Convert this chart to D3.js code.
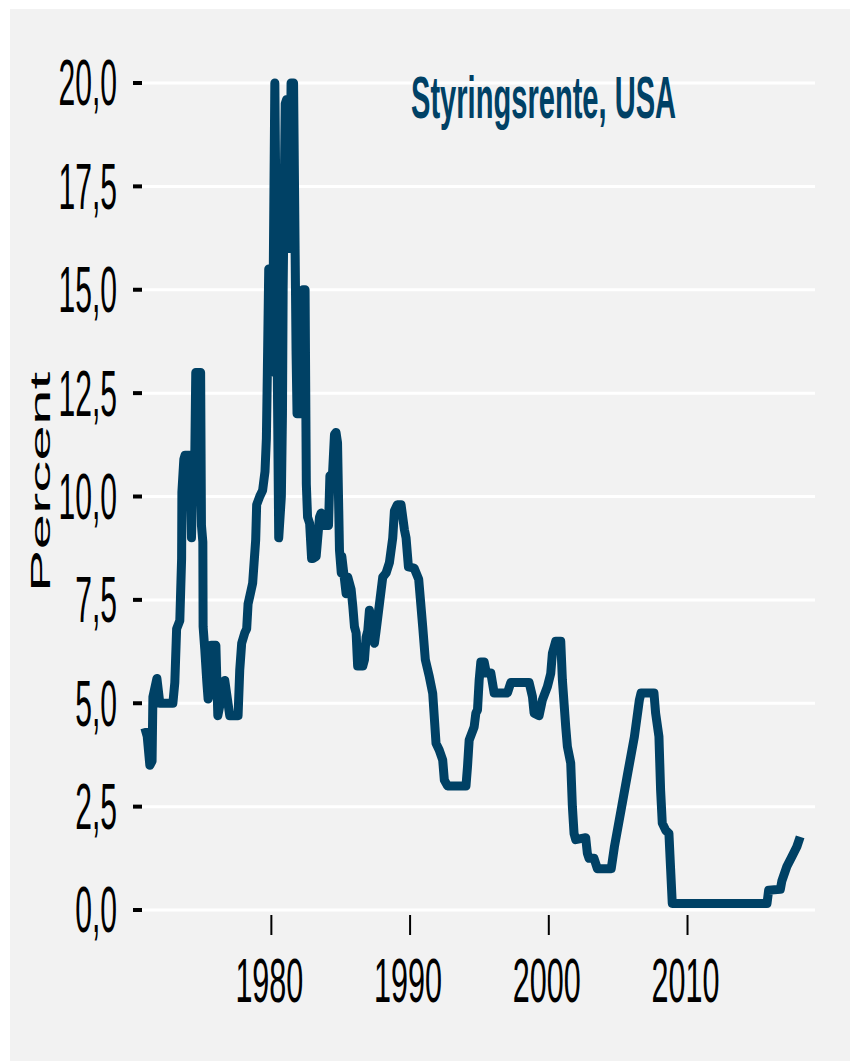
<!DOCTYPE html>
<html>
<head>
<meta charset="utf-8">
<script src="https://cdn.jsdelivr.net/npm/d3@7"></script>
<style>
  body { margin: 0; background: #fff; }
  text { font-family: "Liberation Sans", Arial, sans-serif; }
</style>
</head>
<body>
<script>
const width = 850;
const height = 1061;

// decimal years and policy rate (percent)
const years = [
  1970.88, 1971.05, 1971.24, 1971.40, 1971.46, 1971.75, 1971.96, 1972.90,
  1973.04, 1973.17, 1973.40, 1973.53, 1973.55, 1973.69, 1973.78, 1974.10,
  1974.24, 1974.40, 1974.48, 1974.55, 1974.90, 1974.96, 1975.06, 1975.08,
  1975.20, 1975.35, 1975.44, 1975.56, 1975.68, 1976.00, 1976.14, 1976.64,
  1977.00, 1977.60, 1977.72, 1977.86, 1978.08, 1978.22, 1978.32, 1978.65,
  1978.87, 1978.94, 1979.16, 1979.37, 1979.54, 1979.64, 1979.71, 1979.81,
  1979.91, 1980.09, 1980.25, 1980.53, 1980.72, 1980.80, 1980.85, 1981.00,
  1981.10, 1981.24, 1981.32, 1981.42, 1981.60, 1981.78, 1981.85, 1982.16,
  1982.28, 1982.43, 1982.52, 1982.61, 1982.76, 1982.90, 1983.00, 1983.23,
  1983.47, 1983.59, 1983.69, 1984.12, 1984.22, 1984.41, 1984.55, 1984.66,
  1984.77, 1984.91, 1985.04, 1985.08, 1985.27, 1985.39, 1985.51, 1985.75,
  1985.87, 1985.99, 1986.11, 1986.22, 1986.59, 1986.71, 1986.83, 1986.95,
  1987.07, 1987.21, 1987.31, 1987.43, 1987.55, 1987.79, 1988.03, 1988.27,
  1988.51, 1988.75, 1988.87, 1989.08, 1989.35, 1989.59, 1989.71, 1989.88,
  1990.29, 1990.62, 1990.91, 1991.10, 1991.39, 1991.63, 1991.87, 1992.10,
  1992.35, 1992.47, 1992.70, 1994.03, 1994.14, 1994.26, 1994.62, 1994.74,
  1994.86, 1994.98, 1995.10, 1995.34, 1995.50, 1995.82, 1996.06, 1997.02,
  1997.26, 1998.58, 1998.82, 1998.94, 1999.30, 1999.54, 1999.90, 2000.14,
  2000.26, 2000.50, 2000.86, 2000.98, 2001.22, 2001.34, 2001.58, 2001.70,
  2001.82, 2001.94, 2002.66, 2002.78, 2002.90, 2003.26, 2003.50, 2004.50,
  2004.73, 2005.21, 2005.69, 2006.17, 2006.53, 2006.65, 2007.58, 2007.70,
  2007.94, 2008.06, 2008.18, 2008.42, 2008.66, 2008.78, 2008.90, 2015.73,
  2015.85, 2016.69, 2016.80, 2017.16, 2017.52, 2017.88, 2018.12
];
const rates = [
  4.4, 4.2, 3.5, 3.6, 5.15, 5.6, 5.0, 5.0,
  5.5, 6.8, 7.0, 8.5, 10.1, 10.9, 11.0, 11.0,
  9.0, 11.0, 11.0, 13.0, 13.0, 9.3, 8.9, 6.85,
  6.3, 5.5, 5.1, 5.25, 6.4, 6.4, 4.7, 5.55,
  4.7, 4.7, 5.8, 6.45, 6.7, 6.8, 7.4, 7.9,
  8.95, 9.8, 10.0, 10.15, 10.6, 11.4, 13.0, 15.5,
  13.0, 13.5, 20.0, 9.0, 10.0, 12.0, 15.1, 19.5,
  19.6, 16.0, 16.0, 20.0, 20.0, 13.5, 12.0, 12.0,
  15.0, 15.0, 10.3, 9.5, 9.35, 8.5, 8.5, 8.55,
  9.5, 9.6, 9.3, 9.3, 10.5, 10.55, 11.5, 11.55,
  11.3, 8.7, 8.15, 8.55, 8.0, 7.65, 8.05, 7.75,
  7.35, 6.85, 6.7, 5.9, 5.9, 6.05, 6.6, 6.75,
  7.25, 7.0, 6.6, 6.45, 6.75, 7.4, 8.05, 8.15,
  8.4, 9.0, 9.65, 9.8, 9.8, 9.2, 9.0, 8.3,
  8.27, 8.0, 6.85, 6.05, 5.64, 5.24, 4.03, 3.87,
  3.63, 3.14, 3.0, 3.0, 3.47, 4.11, 4.43, 4.76,
  4.84, 5.56, 6.0, 6.0, 5.73, 5.73, 5.25, 5.25,
  5.5, 5.5, 5.16, 4.76, 4.7, 5.08, 5.4, 5.72,
  6.21, 6.5, 6.5, 5.56, 4.43, 3.95, 3.55, 2.5,
  1.85, 1.7, 1.75, 1.37, 1.25, 1.25, 1.0, 1.0,
  1.53, 2.42, 3.31, 4.19, 5.08, 5.25, 5.25, 4.76,
  4.19, 2.9, 2.1, 1.93, 1.85, 1.0, 0.16, 0.16,
  0.48, 0.5, 0.7, 1.05, 1.29, 1.53, 1.77
];

const yTicks = [0, 2.5, 5, 7.5, 10, 12.5, 15, 17.5, 20];
const xTicks = [1980, 1990, 2000, 2010];
const title = "Styringsrente, USA";
const yLabel = "Percent";

const data = years.map((y, i) => ({ year: y, rate: rates[i] }));

let svg = d3
  .select("body")
  .append("svg")
  .attr("width", width)
  .attr("height", height);

// grey panel
svg.append("rect")
  .attr("x", 10).attr("y", 9)
  .attr("width", width - 10).attr("height", height - 9)
  .attr("fill", "#f2f2f2");

let plot = { left: 140, right: 815 };

let x = d3.scaleLinear().domain([1970.53, 2019.19]).range([plot.left, plot.right]);
let y = d3.scaleLinear().domain([0, 20]).range([910, 83]);

// text is squashed horizontally in the original
const sx = 0.47;
const fmt = (d) => d3.format(".1f")(d).replace(".", ",");

// gridlines
svg.append("g")
  .selectAll("line")
  .data(yTicks)
  .join("line")
  .attr("x1", plot.left).attr("x2", plot.right)
  .attr("y1", (d) => y(d)).attr("y2", (d) => y(d))
  .attr("stroke", "#fff")
  .attr("stroke-width", 3);

// y ticks + labels
let yAxis = svg.append("g");
yAxis.selectAll("line")
  .data(yTicks)
  .join("line")
  .attr("x1", 133).attr("x2", 142)
  .attr("y1", (d) => y(d)).attr("y2", (d) => y(d))
  .attr("stroke", "#000")
  .attr("stroke-width", 4);
yAxis.selectAll("text")
  .data(yTicks)
  .join("text")
  .attr("transform", (d) => `translate(117, ${y(d)}) scale(${sx}, 1)`)
  .attr("dy", "0.35em")
  .attr("text-anchor", "end")
  .attr("font-size", 64)
  .attr("fill", "#000")
  .text(fmt);

// x ticks + labels
let xAxis = svg.append("g");
xAxis.selectAll("line")
  .data(xTicks)
  .join("line")
  .attr("x1", (d) => x(d)).attr("x2", (d) => x(d))
  .attr("y1", 915).attr("y2", 935)
  .attr("stroke", "#000")
  .attr("stroke-width", 2);
xAxis.selectAll("text")
  .data(xTicks)
  .join("text")
  .attr("transform", (d) => `translate(${x(d) - 2}, 1002) scale(${sx + 0.015}, 1)`)
  .attr("text-anchor", "middle")
  .attr("font-size", 63)
  .attr("fill", "#000")
  .text((d) => d);

// y axis title
svg.append("text")
  .attr("transform", `translate(50, 482) scale(0.44, 1) rotate(-90)`)
  .attr("text-anchor", "middle")
  .attr("font-size", 64)
  .attr("fill", "#000")
  .text(yLabel);

// the rate line
let line = d3.line()
  .x((d) => x(d.year))
  .y((d) => y(d.rate));

svg.append("path")
  .datum(data)
  .attr("d", line)
  .attr("fill", "none")
  .attr("stroke", "#004165")
  .attr("stroke-width", 9)
  .attr("stroke-linejoin", "round");

// chart title inside the panel
svg.append("text")
  .attr("transform", `translate(411, 118) scale(0.485, 1)`)
  .attr("font-size", 60)
  .attr("font-weight", "bold")
  .attr("fill", "#004165")
  .text(title);
</script>
</body>
</html>
